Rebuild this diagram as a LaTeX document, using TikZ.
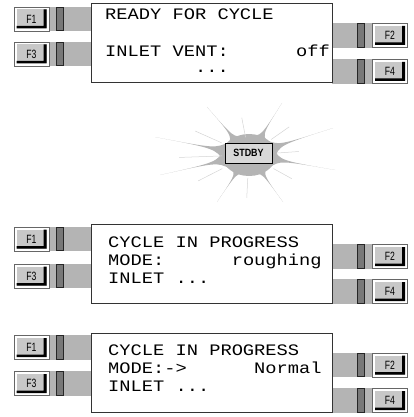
\documentclass[tikz,border=0pt]{standalone}
\usepackage{fontspec}
\setsansfont{Liberation Sans}
\newfontfamily\lcdfont{Liberation Mono}[FakeStretch=1.17]
\usetikzlibrary{positioning,backgrounds}
\definecolor{barGray}{RGB}{180,180,180}
\definecolor{keyFace}{RGB}{200,200,200}
\definecolor{plugGray}{RGB}{120,120,120}
\definecolor{rayGray}{RGB}{212,212,212}
\definecolor{stdbyFace}{RGB}{216,216,216}
\newcommand\keylbl[1]{\scalebox{0.72}[1]{#1}}
\tikzset{
  panel/.style={draw=black!80, fill=white, line width=0.8pt, minimum width=241pt,
    minimum height=79pt, inner sep=0pt},
  lcd/.style={font=\lcdfont\fontsize{16}{16}\selectfont, inner sep=0pt, anchor=base west,
    text height=9pt, text depth=0pt},
  plug/.style={draw=black!85, fill=plugGray, line width=0.6pt, minimum width=7pt,
    minimum height=23.5pt, inner sep=0pt},
  fkey/.style={draw=black!60, fill=white, line width=0.5pt, minimum width=35pt,
    minimum height=24pt, inner sep=0pt, font=\sffamily\fontsize{12}{12}\selectfont,
    path picture={
      \fill[keyFace] ([shift={(2.5pt,2.5pt)}]path picture bounding box.south west)
        rectangle ([shift={(-2.5pt,-2.5pt)}]path picture bounding box.north east);
      \fill[black] ([shift={(2.5pt,2.5pt)}]path picture bounding box.south west)
        -- ([shift={(-2.5pt,2.5pt)}]path picture bounding box.south east)
        -- ([shift={(-2.5pt,-2.5pt)}]path picture bounding box.north east)
        -- ([shift={(-5.5pt,-2.5pt)}]path picture bounding box.north east)
        -- ([shift={(-5.5pt,5pt)}]path picture bounding box.south east)
        -- ([shift={(2.5pt,5pt)}]path picture bounding box.south west) -- cycle;
    }},
  standby/.style={draw=black, fill=stdbyFace, line width=0.8pt, minimum width=47pt,
    minimum height=20pt, inner sep=0pt, font=\sffamily\bfseries\fontsize{10.5}{10.5}\selectfont}
}

\begin{document}
\begin{tikzpicture}[x=1pt,y=-1pt]
\useasboundingbox (0,0) rectangle (414,417);

\foreach \n/\cy/\ya/\yc/\yb/\yd in {1/43/19/54/35.5/71.5, 2/264/239/276/256.5/291.5,
    3/372.5/347.5/383.5/365/400.5}{
  \node[panel] (scr\n) at (211.5,\cy) {};
  \node[fkey] (fa\n) at (31.5,\ya) {\keylbl{F1}};
  \node[fkey] (fc\n) at (31.5,\yc) {\keylbl{F3}};
  \node[fkey] (fb\n) at (390,\yb) {\keylbl{F2}};
  \node[fkey] (fd\n) at (390,\yd) {\keylbl{F4}};
  \node[plug] (pa\n) at (59.5,\ya) {};
  \node[plug] (pc\n) at (59.5,\yc) {};
  \node[plug] (pb\n) at (360.5,\yb) {};
  \node[plug] (pd\n) at (360.5,\yd) {};
  \begin{scope}[on background layer]
    \fill[barGray] (fa\n.north) rectangle (scr\n.west |- fa\n.south);
    \fill[barGray] (fc\n.north) rectangle (scr\n.west |- fc\n.south);
    \fill[barGray] (fb\n.north) rectangle (scr\n.east |- fb\n.south);
    \fill[barGray] (fd\n.north) rectangle (scr\n.east |- fd\n.south);
  \end{scope}
}

\node[lcd] (ready) at (105,20) {READY FOR CYCLE};
\node[lcd] (vent) at (105,57) {INLET VENT:\ \ \ \ \ \ off};
\node[lcd] (more) at (105,72.5) {\ \ \ \ \ \ \ \ ...};

\node[lcd] (prog) at (108,247) {CYCLE IN PROGRESS};
\node[lcd] (rough) at (108,265) {MODE:\ \ \ \ \ \ roughing};
\node[lcd] (inlet) at (108,283) {INLET ...};

\node[lcd] (progb) at (108,355) {CYCLE IN PROGRESS};
\node[lcd] (normal) at (108,373) {MODE:->\ \ \ \ \ \ Normal};
\node[lcd] (inletb) at (108,391) {INLET ...};

\begin{scope}[shift={(249,155)}]
  \fill[barGray] (0,0) ellipse [x radius=27, y radius=21];
  \foreach \dx/\dy in {84/-27, 33/-52, -42/-48, -94/-18, -89/20, -32/47, 34/47, 86/15}{
    \pgfmathsetmacro\ang{atan2(\dy,\dx)}
    \fill[barGray] ({\ang+30}:26 and 20) .. controls (0.36*\dx,0.36*\dy) .. (\dx,\dy)
      .. controls (0.36*\dx,0.36*\dy) .. ({\ang-30}:26 and 20) -- cycle;
  }
  \foreach \a/\ra/\rb in {-101/18/38, -35/27/49, -156/30/59, 178/27/70, 153/30/57,
      93/23/43, -4/28/50, 29/28/49}{
    \draw[rayGray, line width=0.5pt] (\a:\ra) -- (\a:\rb);
  }
\end{scope}
\node[standby] (stdby) at (248.5,153) {\scalebox{0.85}[1]{STDBY}};
\end{tikzpicture}
\end{document}
